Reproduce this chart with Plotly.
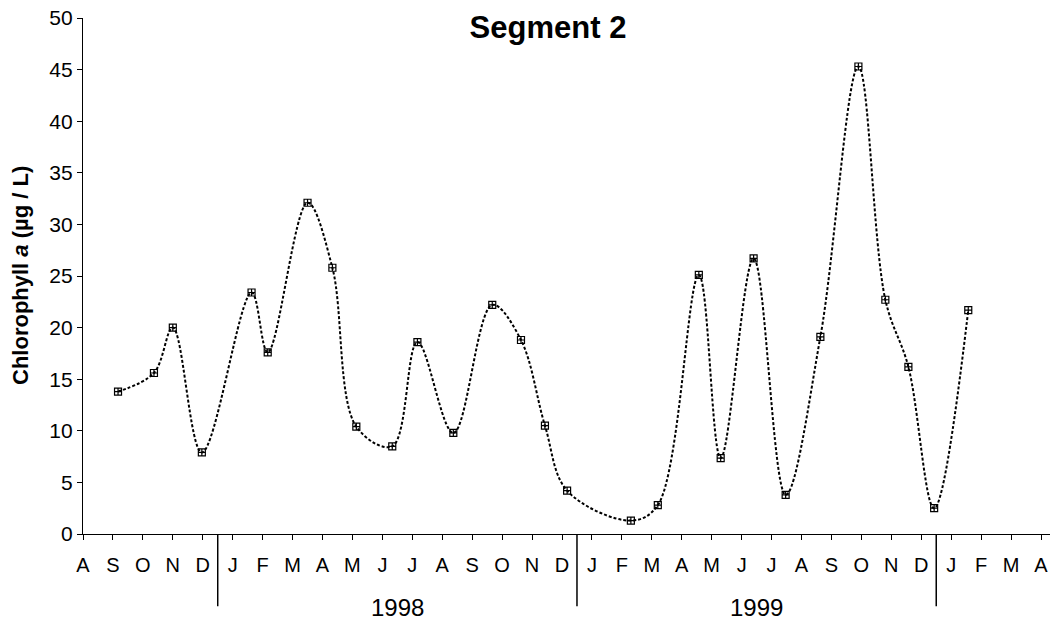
import plotly.graph_objects as go

# Month tick labels, Aug 1997 .. Apr 2000 (index 0 = Aug 1997)
month_labels = ["A", "S", "O", "N", "D",
                "J", "F", "M", "A", "M", "J", "J", "A", "S", "O", "N", "D",
                "J", "F", "M", "A", "M", "J", "J", "A", "S", "O", "N", "D",
                "J", "F", "M", "A"]
month_index = list(range(len(month_labels)))

# Sampling times (fractional month index) and chlorophyll a values (ug/L)
sample_month = [1.17, 2.37, 3.0, 3.97, 5.63, 6.17, 7.5, 8.33, 9.13, 10.33,
                11.17, 12.37, 13.67, 14.63, 15.43, 16.17, 18.3, 19.2, 20.57,
                21.3, 22.4, 23.47, 24.63, 25.9, 26.8, 27.57, 28.43, 29.57]
chl_a = [13.8, 15.6, 20.0, 7.9, 23.4, 17.6, 32.1, 25.8, 10.4, 8.5,
         18.6, 9.8, 22.2, 18.8, 10.5, 4.2, 1.3, 2.8, 25.1,
         7.35, 26.7, 3.8, 19.1, 45.3, 22.7, 16.2, 2.5, 21.7]

# Year boundaries (between Dec and Jan) and year labels
year_breaks = [4.5, 16.5, 28.5]
year_labels = ["1998", "1999"]
year_centers = [10.5, 22.5]

FONT = "Arial, Liberation Sans, sans-serif"

fig = go.Figure()
fig.add_trace(go.Scatter(
    x=sample_month, y=chl_a,
    mode="lines+markers",
    line=dict(color="black", width=2, dash="3px,2px", shape="spline", smoothing=1.0),
    marker=dict(symbol="square-cross-open", size=7, color="black",
                line=dict(color="black", width=1.2)),
    showlegend=False,
    cliponaxis=False,
))

for xb in year_breaks:
    fig.add_shape(type="line", xref="x", yref="paper",
                  x0=xb, x1=xb, y0=0, y1=-0.14,
                  line=dict(color="black", width=1.5))

for lab, xc in zip(year_labels, year_centers):
    fig.add_annotation(x=xc, y=-0.142, xref="x", yref="paper",
                       text=lab, showarrow=False, yanchor="middle",
                       font=dict(family=FONT, size=24, color="black"))

# y-axis title
fig.add_annotation(x=0, xref="paper", xshift=-63, y=0.5, yref="paper",
                   text="<b>Chlorophyll <i>a</i> (\u00b5g / L)</b>",
                   textangle=-90, showarrow=False,
                   xanchor="center", yanchor="middle",
                   font=dict(family=FONT, size=22, color="black"))

fig.update_layout(
    width=1054, height=627,
    margin=dict(l=83, r=4, t=18, b=93),
    paper_bgcolor="white", plot_bgcolor="white",
    font=dict(family=FONT, color="black"),
    title=dict(text="<b>Segment 2</b>", x=548/1054, xanchor="center",
               y=1 - 27/627, yanchor="middle",
               font=dict(family=FONT, size=31, color="black")),
)

fig.update_xaxes(
    range=[0, 32.3], automargin=False, ticklabeloverflow="allow",
    tickmode="array", tickvals=month_index, ticktext=month_labels,
    ticks="outside", ticklen=5, tickcolor="black", tickwidth=1,
    tickfont=dict(family=FONT, size=20, color="black"),
    ticklabelstandoff=8,
    showline=True, linecolor="black", linewidth=1.2,
    showgrid=False, zeroline=False,
)
fig.update_yaxes(
    range=[0, 50], automargin=False, ticklabeloverflow="allow",
    tickmode="array", tickvals=list(range(0, 51, 5)),
    ticks="outside", ticklen=5, tickcolor="black", tickwidth=1,
    tickfont=dict(family=FONT, size=21, color="black"),
    showline=True, linecolor="black", linewidth=1.2,
    showgrid=False, zeroline=False,
)

fig.write_html("out.html",
               config={"displayModeBar": False},
               post_script="document.body.style.margin='0px';")
